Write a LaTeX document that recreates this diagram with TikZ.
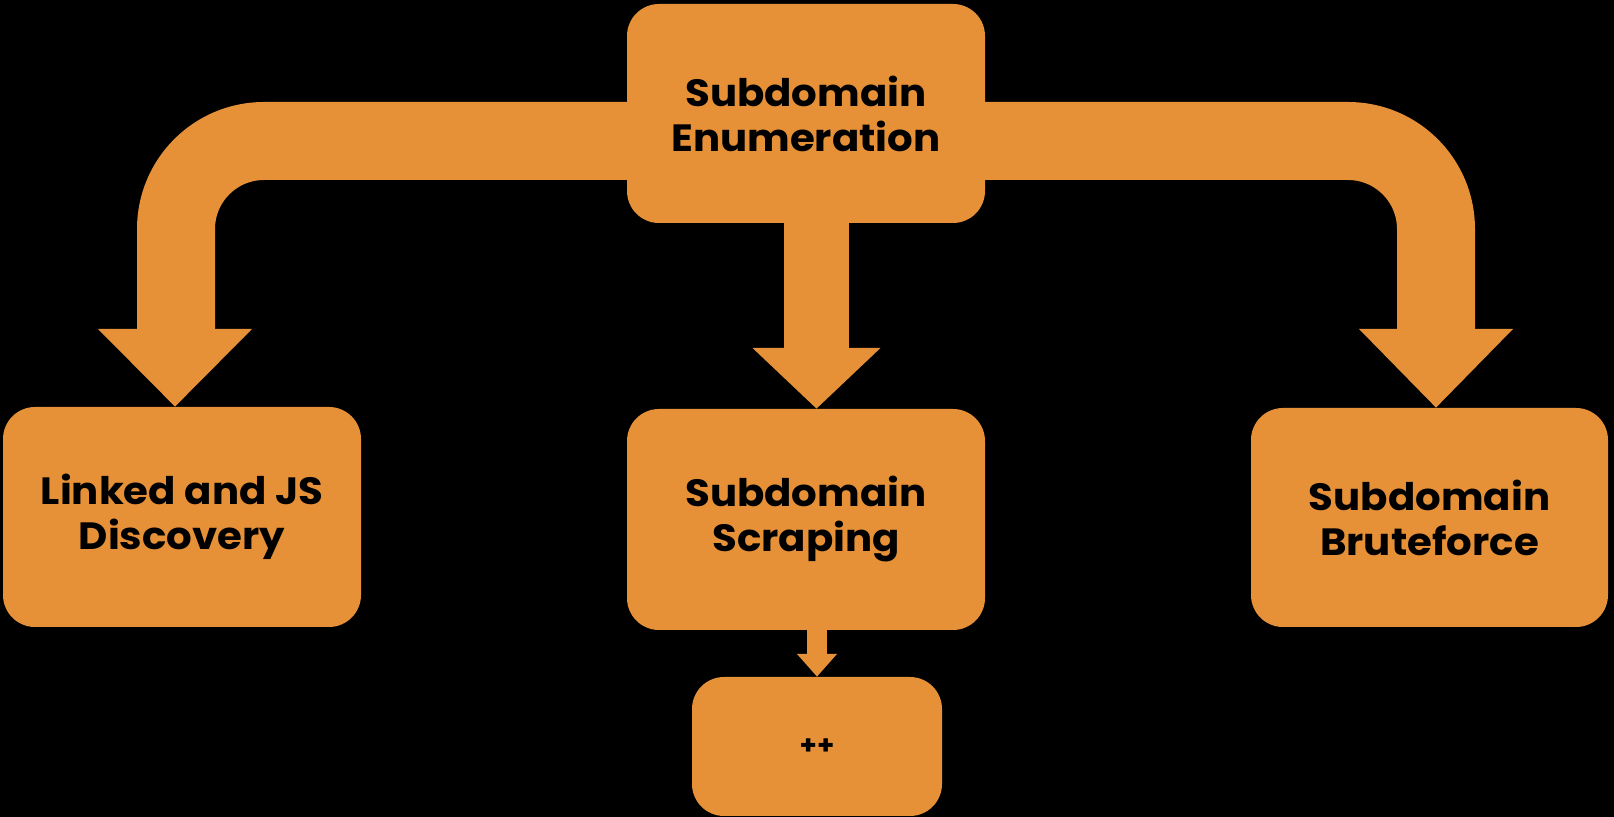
\documentclass[tikz,border=0pt]{standalone}
\usepackage{fontspec}
\setmainfont{Poppins}[FakeStretch=1.06]
\definecolor{boxorange}{HTML}{E69138}
\begin{document}
\begin{tikzpicture}[x=0.5pt,y=-0.5pt,
  box/.style={rectangle, rounded corners=16pt, fill=boxorange, draw=none, inner sep=0pt, align=center,
    font=\bfseries\fontsize{19}{22.5}\selectfont, text=black},
  band/.style={draw=boxorange, line width=39pt, line cap=butt, rounded corners=44pt},
  head/.style={fill=boxorange, draw=none}]
\fill[black] (0,0) rectangle (1614,817);
\useasboundingbox (0,0) rectangle (1614,817);
% helper coordinates
\coordinate (bandy) at (0,141);
\coordinate (lhead) at (176,329);
\coordinate (rhead) at (1436,329);
\coordinate (mhead) at (816.5,348);
\coordinate (shead) at (817,654);
% nodes
\node[box, minimum width=179pt, minimum height=109.5pt] (top) at (806,113.5) {Subdomain\\Enumeration};
\node[box, minimum width=179pt, minimum height=110pt] (linked) at (182,517) {Linked and JS\\Discovery};
\node[box, minimum width=179pt, minimum height=110.5pt] (scrap) at (806,519.5) {Subdomain\\Scraping};
\node[box, minimum width=178.5pt, minimum height=109.5pt] (brute) at (1429.5,517.5) {Subdomain\\Bruteforce};
\node[box, minimum width=125pt, minimum height=69.5pt, font=\bfseries\fontsize{13}{16}\selectfont] (plus) at (817,746.5) {++};
% left connector
\draw[band] ([xshift=4pt]top.west |- bandy) -| (lhead);
\fill[head] (lhead) ++(-78,0) -- ++(154,0) -- (linked.north -| 175,0) -- cycle;
% right connector
\draw[band] ([xshift=-4pt]top.east |- bandy) -| (rhead);
\fill[head] (rhead) ++(-77,0) -- ++(154,0) -- (brute.north -| rhead) -- cycle;
% middle connector
\draw[band, line width=32.5pt] ([yshift=4pt]top.south -| mhead) -- (mhead);
\fill[head] (mhead) ++(-64,0) -- ++(128,0) -- (scrap.north -| mhead) -- cycle;
% small connector
\draw[band, line width=10pt] ([yshift=3pt]scrap.south -| shead) -- (shead);
\fill[head] (shead) ++(-20,0) -- ++(40,0) -- (plus.north -| shead) -- cycle;
\end{tikzpicture}
\end{document}
